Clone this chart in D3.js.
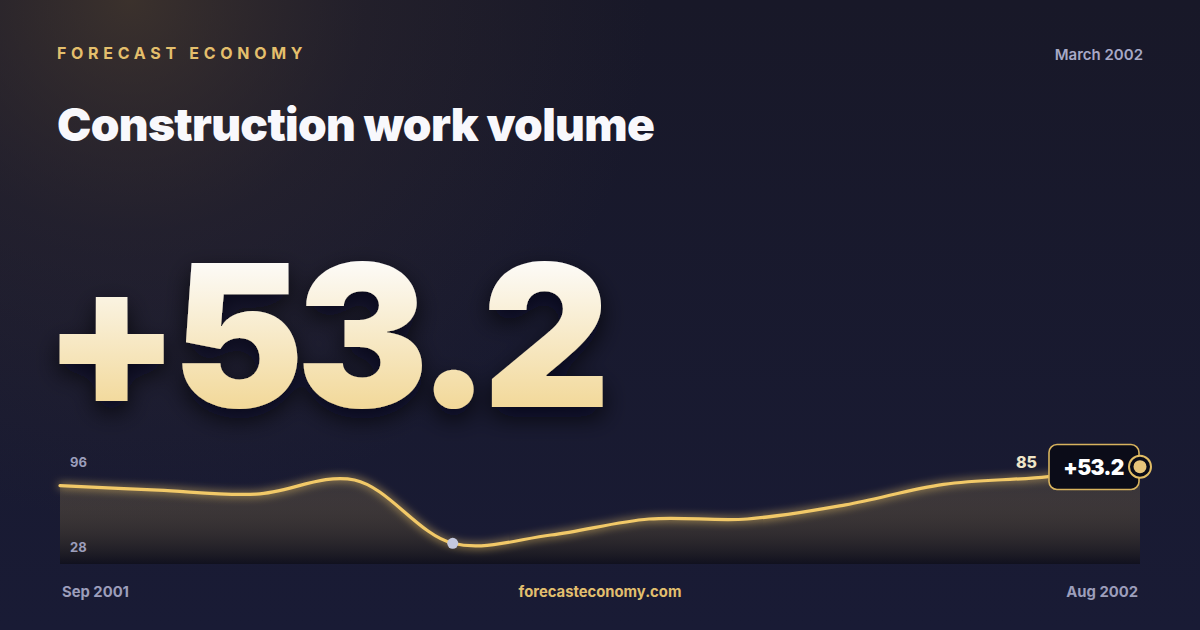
<!DOCTYPE html>
<html>
<head>
<meta charset="utf-8">
<script src="https://cdn.jsdelivr.net/npm/d3@7/dist/d3.min.js"></script>
<style>
  html, body { margin: 0; padding: 0; background: #15162a; }
  svg { display: block; }
  text { font-family: Inter, "Noto Sans", sans-serif; }
</style>
</head>
<body>
<svg id="chart" width="1200" height="630"></svg>
<script>
// ---- data ----
const months = ["Sep 2001","Oct 2001","Nov 2001","Dec 2001","Jan 2002","Feb 2002","Mar 2002","Apr 2002","May 2002","Jun 2002","Jul 2002","Aug 2002"];
const values = [70.9, 67.5, 64.6, 75.1, 28, 34.2, 46.1, 46.1, 56.6, 71.9, 77.1, 85];
const yTickLabels = ["96", "28"];
const headline = "+53.2";
const brand = "FORECAST ECONOMY";
const title = "Construction work volume";
const dateLabel = "March 2002";
const site = "forecasteconomy.com";

const W = 1200, H = 630;
const svg = d3.select("#chart");
const defs = svg.append("defs");

// background
const bg = defs.append("linearGradient").attr("id","bg").attr("x1",0).attr("y1",0).attr("x2",0).attr("y2",1);
bg.append("stop").attr("offset","0%").attr("stop-color","#181828");
bg.append("stop").attr("offset","100%").attr("stop-color","#191b35");
const warm = defs.append("radialGradient").attr("id","warm").attr("gradientUnits","userSpaceOnUse")
  .attr("cx",130).attr("cy",0).attr("r",520);
warm.append("stop").attr("offset","0%").attr("stop-color","#4a3c2e").attr("stop-opacity",0.7);
warm.append("stop").attr("offset","45%").attr("stop-color","#3a3030").attr("stop-opacity",0.3);
warm.append("stop").attr("offset","100%").attr("stop-color","#3a3030").attr("stop-opacity",0);

svg.append("rect").attr("width",W).attr("height",H).attr("fill","url(#bg)");
svg.append("rect").attr("width",W).attr("height",H).attr("fill","url(#warm)");

// big number gradient
const ng = defs.append("linearGradient").attr("id","numgrad").attr("gradientUnits","userSpaceOnUse")
  .attr("x1",0).attr("y1",258).attr("x2",0).attr("y2",410);
ng.append("stop").attr("offset","0%").attr("stop-color","#fdfcfa");
ng.append("stop").attr("offset","100%").attr("stop-color","#f2d898");

const shadow = defs.append("filter").attr("id","shadow").attr("x","-20%").attr("y","-20%").attr("width","140%").attr("height","150%");
shadow.append("feDropShadow").attr("dx",0).attr("dy",10).attr("stdDeviation",12).attr("flood-color","#05050c").attr("flood-opacity",0.75);

const glow = defs.append("filter").attr("id","glow").attr("x","-10%").attr("y","-50%").attr("width","120%").attr("height","200%");
glow.append("feGaussianBlur").attr("in","SourceGraphic").attr("stdDeviation",4).attr("result","b");
const gm = glow.append("feMerge");
gm.append("feMergeNode").attr("in","b");
gm.append("feMergeNode").attr("in","SourceGraphic");

const ag = defs.append("linearGradient").attr("id","areagrad").attr("gradientUnits","userSpaceOnUse")
  .attr("x1",0).attr("y1",466).attr("x2",0).attr("y2",565);
ag.append("stop").attr("offset","0%").attr("stop-color","#e8c36a").attr("stop-opacity",0.1);
ag.append("stop").attr("offset","100%").attr("stop-color","#08080f").attr("stop-opacity",0.6);

// header
svg.append("text").attr("x",57).attr("y",59).text(brand)
  .attr("font-size",16).attr("font-weight",700).attr("letter-spacing",4.7).attr("fill","#e4bf6c");
svg.append("text").attr("x",1143).attr("y",60).attr("text-anchor","end").text(dateLabel)
  .attr("font-size",15).attr("font-weight",600).attr("fill","#a7a9c6");
svg.append("text").attr("x",57).attr("y",141).text(title)
  .attr("font-size",46).attr("font-weight",900).attr("letter-spacing",-0.7).attr("fill","#f8f8fc");

// big number
svg.append("text").attr("x",43).attr("y",407).text(headline)
  .attr("font-size",198).attr("font-weight",900).attr("letter-spacing",-8)
  .attr("fill","url(#numgrad)").attr("filter","url(#shadow)");

// chart
const x0 = 60, x1 = 1140, yBottom = 564;
const x = d3.scalePoint().domain(months).range([x0, x1]);
const y = d3.scaleLinear().domain([d3.min(values), d3.max(values)]).range([543.3, 466.7]);
const pts = months.map((m,i)=>({m, v: values[i]}));

const area = d3.area().x(d=>x(d.m)).y0(yBottom).y1(d=>y(d.v)).curve(d3.curveCatmullRom);
const line = d3.line().x(d=>x(d.m)).y(d=>y(d.v)).curve(d3.curveCatmullRom);

svg.append("path").datum(pts).attr("d",area).attr("fill","url(#areagrad)");
svg.append("path").datum(pts).attr("d",line).attr("fill","none")
  .attr("stroke","#f2c968").attr("stroke-width",3.2).attr("stroke-linecap","round").attr("filter","url(#glow)");

// y labels
svg.append("text").attr("x",70).attr("y",467).text(yTickLabels[0])
  .attr("font-size",13).attr("font-weight",700).attr("fill","#9c9ebb");
svg.append("text").attr("x",70).attr("y",552).text(yTickLabels[1])
  .attr("font-size",13).attr("font-weight",700).attr("fill","#9c9ebb");

// min point
const minI = values.indexOf(d3.min(values));
svg.append("circle").attr("cx",x(months[minI])).attr("cy",y(values[minI])).attr("r",5.5).attr("fill","#c4c8df");

// end value
const last = pts[pts.length-1];
const lx = x(last.m), ly = y(last.v);
svg.append("text").attr("x",1037).attr("y",468).attr("text-anchor","end").text(String(last.v))
  .attr("font-size",16).attr("font-weight",800).attr("fill","#efe5c8");

svg.append("rect").attr("x",1049).attr("y",444.5).attr("width",90).attr("height",45).attr("rx",8)
  .attr("fill","#0b0c18").attr("stroke","#d8b35e").attr("stroke-width",1.6);
svg.append("text").attr("x",1093.5).attr("y",474.5).attr("text-anchor","middle").text(headline)
  .attr("font-size",21).attr("font-weight",900).attr("letter-spacing",-0.6).attr("fill","#ffffff");

svg.append("circle").attr("cx",lx).attr("cy",ly).attr("r",11).attr("fill","#0b0c18")
  .attr("stroke","#e2bd65").attr("stroke-width",2);
svg.append("circle").attr("cx",lx).attr("cy",ly).attr("r",6.5).attr("fill","#e8c57a");

// footer
svg.append("text").attr("x",62).attr("y",597).text(months[0])
  .attr("font-size",14.8).attr("font-weight",700).attr("fill","#9c9ebb");
svg.append("text").attr("x",1138).attr("y",597).attr("text-anchor","end").text(months[months.length-1])
  .attr("font-size",14.8).attr("font-weight",700).attr("fill","#9c9ebb");
svg.append("text").attr("x",600).attr("y",597).attr("text-anchor","middle").text(site)
  .attr("font-size",14.8).attr("font-weight",700).attr("fill","#e2bf6e");
</script>
</body>
</html>
